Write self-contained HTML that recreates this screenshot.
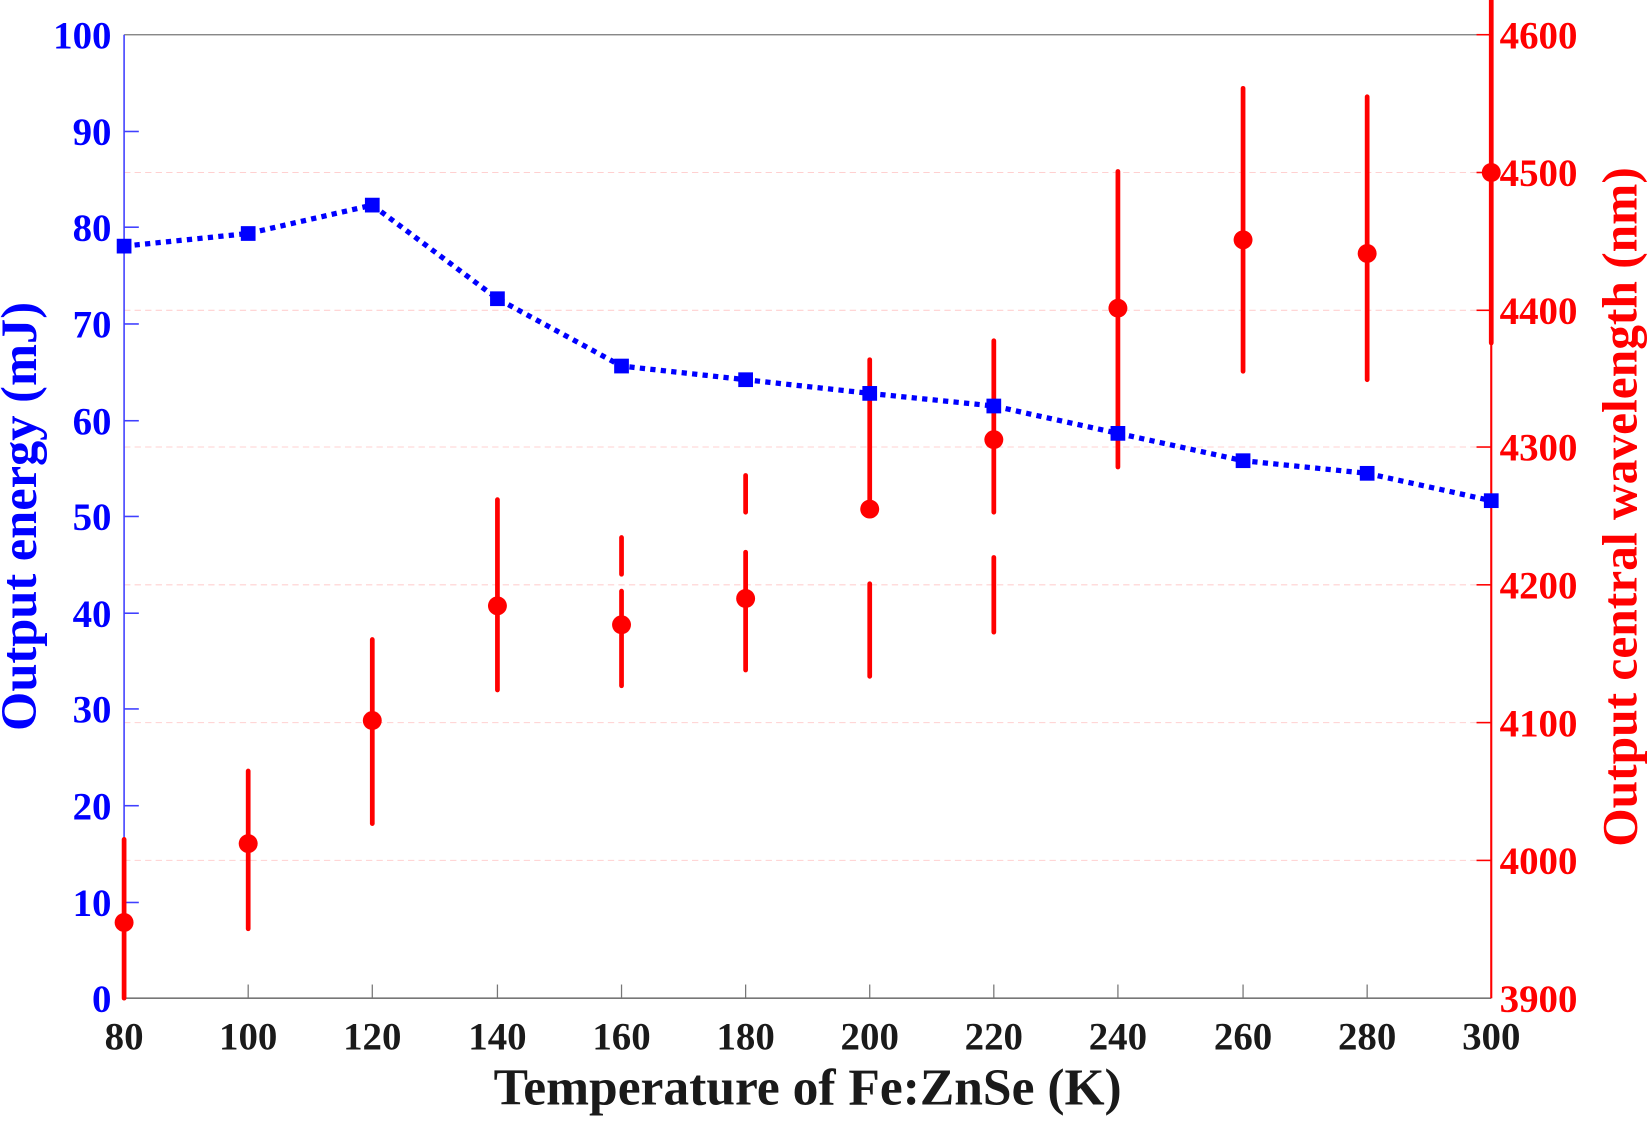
<!DOCTYPE html>
<html><head><style>html,body{margin:0;padding:0;background:#fff;overflow:hidden}</style></head>
<body>
<svg width="1649" height="1116" viewBox="0 0 1568 1061" preserveAspectRatio="none" xmlns="http://www.w3.org/2000/svg" font-family="Liberation Serif, serif" font-weight="bold">
<g stroke="#ffd0d0" stroke-width="1" stroke-dasharray="6,4">
<line x1="118" x2="1418" y1="164" y2="164"/><line x1="118" x2="1418" y1="295" y2="295"/>
<line x1="118" x2="1418" y1="425" y2="425"/><line x1="118" x2="1418" y1="556" y2="556"/>
<line x1="118" x2="1418" y1="687" y2="687"/><line x1="118" x2="1418" y1="818" y2="818"/>
</g>
<line x1="118" x2="1418" y1="33" y2="33" stroke="#777" stroke-width="1.2"/>
<line x1="118" x2="1418" y1="949" y2="949" stroke="#777" stroke-width="1.5"/>
<g stroke="#777" stroke-width="1.2">
<line x1="236" x2="236" y1="949" y2="936"/><line x1="354" x2="354" y1="949" y2="936"/><line x1="473" x2="473" y1="949" y2="936"/><line x1="591" x2="591" y1="949" y2="936"/><line x1="709" x2="709" y1="949" y2="936"/><line x1="827" x2="827" y1="949" y2="936"/><line x1="945" x2="945" y1="949" y2="936"/><line x1="1063" x2="1063" y1="949" y2="936"/><line x1="1182" x2="1182" y1="949" y2="936"/><line x1="1300" x2="1300" y1="949" y2="936"/>
</g>
<line x1="118" x2="118" y1="33" y2="949" stroke="#4040ff" stroke-width="1.5"/>
<g stroke="#4040ff" stroke-width="1.5">
<line x1="118" x2="132" y1="858" y2="858"/><line x1="118" x2="132" y1="766" y2="766"/><line x1="118" x2="132" y1="674" y2="674"/><line x1="118" x2="132" y1="583" y2="583"/><line x1="118" x2="132" y1="491" y2="491"/><line x1="118" x2="132" y1="400" y2="400"/><line x1="118" x2="132" y1="308" y2="308"/><line x1="118" x2="132" y1="216" y2="216"/><line x1="118" x2="132" y1="125" y2="125"/>
</g>
<line x1="1418" x2="1418" y1="33" y2="949" stroke="#ff0000" stroke-width="2"/>
<g stroke="#ff0000" stroke-width="1.5">
<line x1="1418" x2="1404" y1="33" y2="33"/><line x1="1418" x2="1404" y1="164" y2="164"/><line x1="1418" x2="1404" y1="295" y2="295"/><line x1="1418" x2="1404" y1="425" y2="425"/><line x1="1418" x2="1404" y1="556" y2="556"/><line x1="1418" x2="1404" y1="687" y2="687"/><line x1="1418" x2="1404" y1="818" y2="818"/>
</g>
<g stroke="#ff0000" stroke-width="4.5" stroke-linecap="round">
<line x1="118" x2="118" y1="798" y2="949"/>
<line x1="236" x2="236" y1="733" y2="883"/>
<line x1="354" x2="354" y1="608" y2="783"/>
<line x1="473" x2="473" y1="475" y2="656"/>
<line x1="591" x2="591" y1="511" y2="546"/><line x1="591" x2="591" y1="562" y2="652"/>
<line x1="709" x2="709" y1="452" y2="487"/><line x1="709" x2="709" y1="525" y2="637"/>
<line x1="827" x2="827" y1="342" y2="484"/><line x1="827" x2="827" y1="555" y2="643"/>
<line x1="945" x2="945" y1="324" y2="487"/><line x1="945" x2="945" y1="530" y2="601"/>
<line x1="1063" x2="1063" y1="163" y2="444"/>
<line x1="1182" x2="1182" y1="84" y2="353"/>
<line x1="1300" x2="1300" y1="92" y2="361"/>
<line x1="1418" x2="1418" y1="0" y2="326"/>
</g>
<g fill="#ff0000">
<circle cx="118" cy="877" r="9"/><circle cx="236" cy="802" r="9"/><circle cx="354" cy="685" r="9"/><circle cx="473" cy="576" r="9"/><circle cx="591" cy="594" r="9"/><circle cx="709" cy="569" r="9"/><circle cx="827" cy="484" r="9"/><circle cx="945" cy="418" r="9"/><circle cx="1063" cy="293" r="9"/><circle cx="1182" cy="228" r="9"/><circle cx="1300" cy="241" r="9"/><circle cx="1418" cy="164" r="9"/>
</g>
<polyline fill="none" stroke="#0000ff" stroke-width="5" stroke-dasharray="5,5" points="118,234 236,222 354,195 473,284 591,348 709,361 827,374 945,386 1063,412 1182,438 1300,450 1418,476"/>
<g fill="#0000ff">
<rect x="111" y="227" width="14" height="14"/><rect x="229" y="215" width="14" height="14"/><rect x="347" y="188" width="14" height="14"/><rect x="466" y="277" width="14" height="14"/><rect x="584" y="341" width="14" height="14"/><rect x="702" y="354" width="14" height="14"/><rect x="820" y="367" width="14" height="14"/><rect x="938" y="379" width="14" height="14"/><rect x="1056" y="405" width="14" height="14"/><rect x="1175" y="431" width="14" height="14"/><rect x="1293" y="443" width="14" height="14"/><rect x="1411" y="469" width="14" height="14"/>
</g>
<g fill="#0000ff" font-size="37" text-anchor="end">
<text x="106" y="962">0</text><text x="106" y="871">10</text><text x="106" y="779">20</text><text x="106" y="687">30</text><text x="106" y="596">40</text><text x="106" y="504">50</text><text x="106" y="413">60</text><text x="106" y="321">70</text><text x="106" y="229">80</text><text x="106" y="138">90</text><text x="106" y="46">100</text>
</g>
<g fill="#ff0000" font-size="37">
<text x="1426" y="962">3900</text><text x="1426" y="831">4000</text><text x="1426" y="700">4100</text><text x="1426" y="569">4200</text><text x="1426" y="438">4300</text><text x="1426" y="308">4400</text><text x="1426" y="177">4500</text><text x="1426" y="46">4600</text>
</g>
<g fill="#1a1a1a" font-size="37" text-anchor="middle">
<text x="118" y="998">80</text><text x="236" y="998">100</text><text x="354" y="998">120</text><text x="473" y="998">140</text><text x="591" y="998">160</text><text x="709" y="998">180</text><text x="827" y="998">200</text><text x="945" y="998">220</text><text x="1063" y="998">240</text><text x="1182" y="998">260</text><text x="1300" y="998">280</text><text x="1418" y="998">300</text>
</g>
<text x="768" y="1050" text-anchor="middle" font-size="49" fill="#1a1a1a">Temperature of Fe:ZnSe (K)</text>
<text transform="translate(34,491) rotate(-90)" text-anchor="middle" font-size="48" fill="#0000ff">Output energy (mJ)</text>
<text transform="translate(1556,482) rotate(-90)" text-anchor="middle" font-size="47" fill="#ff0000">Output central wavelength (nm)</text>
</svg>
</body></html>
